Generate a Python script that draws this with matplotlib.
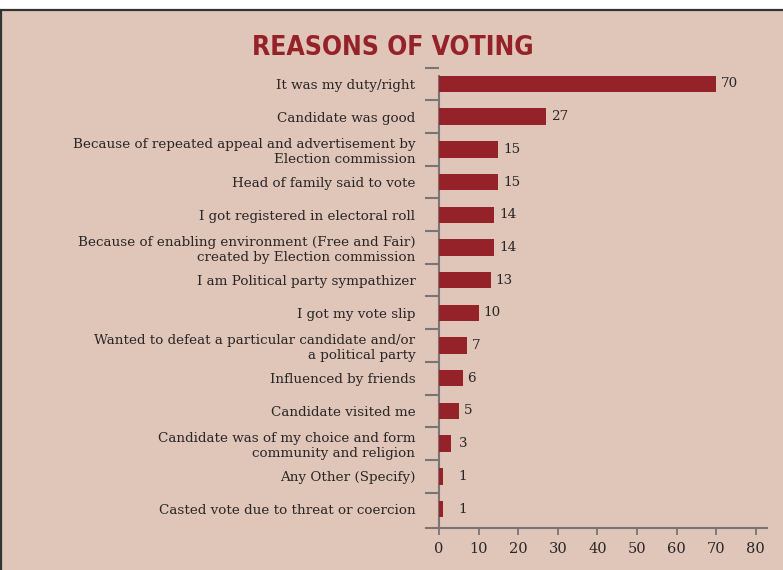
import matplotlib.pyplot as plt
from matplotlib.patches import Rectangle

reasons = [
    "It was my duty/right",
    "Candidate was good",
    "Because of repeated appeal and advertisement by\nElection commission",
    "Head of family said to vote",
    "I got registered in electoral roll",
    "Because of enabling environment (Free and Fair)\ncreated by Election commission",
    "I am Political party sympathizer",
    "I got my vote slip",
    "Wanted to defeat a particular candidate and/or\na political party",
    "Influenced by friends",
    "Candidate visited me",
    "Candidate was of my choice and form\ncommunity and religion",
    "Any Other (Specify)",
    "Casted vote due to threat or coercion",
]
values = [70, 27, 15, 15, 14, 14, 13, 10, 7, 6, 5, 3, 1, 1]
xticks = [0, 10, 20, 30, 40, 50, 60, 70, 80]

bg = "#e0c5b9"
red = "#962229"
grey = "#7a7574"
txt = "#2a2626"

plt.rcParams["font.family"] = "DejaVu Serif"
plt.rcParams["font.size"] = 9.7

fig = plt.figure(figsize=(7.83, 5.70), dpi=100, facecolor="white")
# panel background with dark frame
fig.patches.append(Rectangle((0.0015, -0.02), 1.1, 1 - 10 / 570 + 0.02,
                             transform=fig.transFigure, facecolor=bg,
                             edgecolor="#333333", linewidth=1.6, zorder=-10))

ax = fig.add_axes([0.544, 0.0737, 0.4355, 0.8077])
ax.set_facecolor("none")

for s in ["top", "right"]:
    ax.spines[s].set_visible(False)
ax.spines["left"].set_position(("data", 0))
ax.spines["left"].set_color(grey)
ax.spines["left"].set_linewidth(1.5)
ax.spines["bottom"].set_color(grey)
ax.spines["bottom"].set_linewidth(1.5)

pos = list(range(len(reasons)))
ax.barh(pos, values, height=0.5, color=red, zorder=3)
ax.set_ylim(13.58, -0.5)
ax.set_xlim(-3.3, 82.8)
ax.spines["left"].set_bounds(13.58, -0.25)

for y, v in zip(pos, values):
    ax.text(max(v + 1.2, 5), y, str(v), va="center", ha="left", color=txt)

ax.set_yticks(pos)
ax.set_yticklabels(reasons, color=txt, multialignment="right")
ax.tick_params(axis="y", which="major", length=0, pad=17)
ax.set_yticks([i + 0.5 for i in range(-1, 13)], minor=True)
ax.tick_params(axis="y", which="minor", length=10, width=1.5, color=grey)

ax.set_xticks(xticks)
ax.set_xticklabels([str(t) for t in xticks], color=txt, fontsize=10.5)
ax.tick_params(axis="x", length=5, width=1.3, color=grey, pad=5)

fig.text(0.502, 0.915, "REASONS OF VOTING", ha="center", va="center",
         family="DejaVu Sans", stretch="condensed", fontweight="bold",
         fontsize=19, color=red)

fig.savefig("out.png", dpi=100, facecolor="white")
